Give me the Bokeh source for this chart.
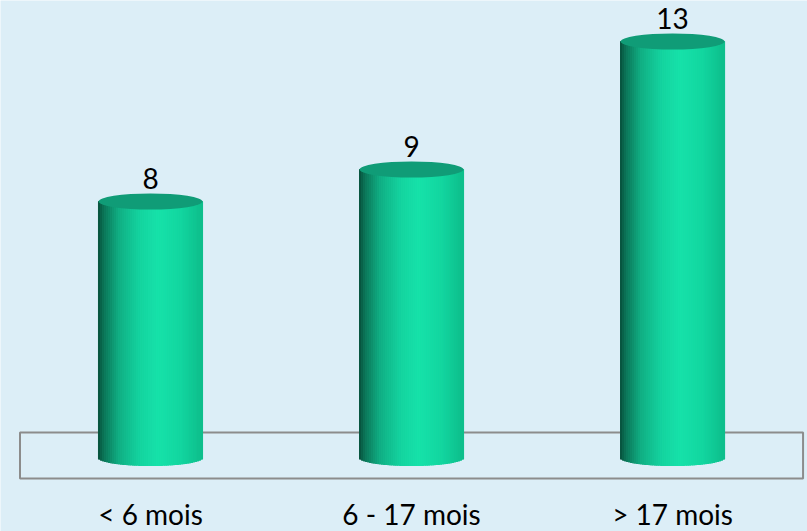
import numpy as np
from bokeh.plotting import figure
from bokeh.models import Range1d
from bokeh.core.properties import value
from bokeh.embed import file_html
from bokeh.resources import INLINE

categories = ["< 6 mois", "6 - 17 mois", "> 17 mois"]
counts = [8, 9, 13]

BG = "#DCEEF7"
FONT = "Lato"

p = figure(width=807, height=531, output_backend="svg", toolbar_location=None,
           x_range=Range1d(-0.5747, 2.517), y_range=Range1d(-2.3125, 14.281),
           min_border=0, background_fill_color=BG, border_fill_color=BG,
           outline_line_color=None)
p.axis.visible = False
p.xgrid.visible = False
p.ygrid.visible = False

# floor plate
p.quad(left=[-0.5], right=[2.5], bottom=[-0.656], top=[0.78],
       fill_alpha=0, line_color="#8C8C8C", line_width=2)

# cylinder shading
stops_t = [0.0, 0.06, 0.2, 0.4, 0.58, 0.8, 1.0]
stops_c = [(8, 80, 60), (12, 120, 90), (17, 175, 132), (21, 212, 160),
           (23, 226, 170), (19, 214, 160), (14, 190, 140)]

def shade(t):
    r = np.interp(t, stops_t, [c[0] for c in stops_c])
    g = np.interp(t, stops_t, [c[1] for c in stops_c])
    b = np.interp(t, stops_t, [c[2] for c in stops_c])
    return "#%02x%02x%02x" % (int(r), int(g), int(b))

bar_w = 0.398
half_h = 0.25
n = 52
L, R, T, B, C = [], [], [], [], []
for i, v in enumerate(counts):
    edges = np.linspace(i - bar_w / 2, i + bar_w / 2, n + 1)
    for k in range(n):
        mid = (edges[k] + edges[k + 1]) / 2
        u = (mid - i) / (bar_w / 2)
        L.append(edges[k]); R.append(edges[k + 1])
        T.append(v); B.append(-half_h * np.sqrt(max(0.0, 1 - u * u)))
        C.append(shade((k + 0.5) / n))
p.quad(left=L, right=R, top=T, bottom=B, fill_color=C, line_color=C,
       line_width=1.2)

xs = list(range(len(counts)))
p.ellipse(x=xs, y=counts, width=bar_w, height=2 * half_h,
          fill_color="#109C77", line_color=None)

# value labels
p.text(x=xs, y=counts, text=[str(c) for c in counts], text_align="center",
       text_baseline="bottom", y_offset=-12, text_font=value(FONT),
       text_font_size="28px", text_color="#000000")

# category labels
p.text(x=xs, y=[0] * 3, text=categories, text_align="center",
       text_baseline="bottom", y_offset=74, text_font=value(FONT),
       text_font_size="28px", text_color="#000000")

open("out.html", "w").write(file_html(p, INLINE))
